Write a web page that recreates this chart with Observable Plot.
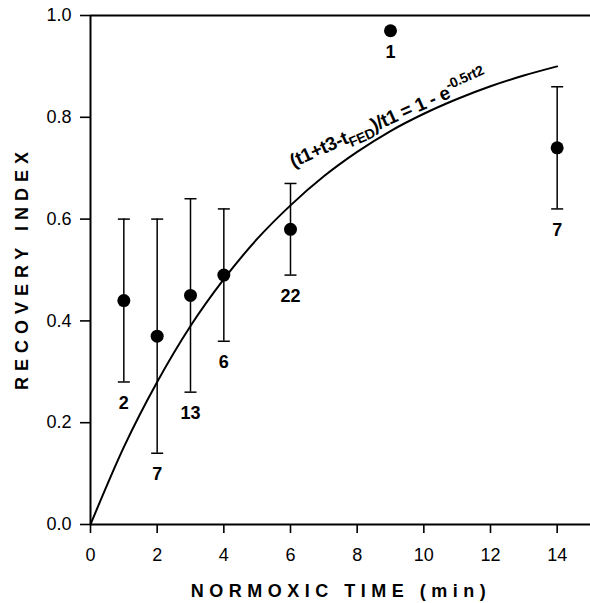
<!DOCTYPE html>
<html><head><meta charset="utf-8">
<script src="https://cdn.jsdelivr.net/npm/d3@7"></script>
<script src="https://cdn.jsdelivr.net/npm/@observablehq/plot@0.6"></script>
<style>body{margin:0;background:#fff}</style>
</head><body><div id="chart"></div>
<script>
// ---- data ----
const times  = [1, 2, 3, 4, 6, 9, 14];
const means  = [0.44, 0.37, 0.45, 0.49, 0.58, 0.97, 0.74];
const lows   = [0.28, 0.14, 0.26, 0.36, 0.49, null, 0.62];
const highs  = [0.60, 0.60, 0.64, 0.62, 0.67, null, 0.86];
const counts = ["2", "7", "13", "6", "22", "1", "7"];
const curveX = [0, 1, 2, 3, 4, 5, 6, 7, 8, 9, 10, 11, 12, 13, 14];
const curveY = [0, 0.152, 0.28, 0.39, 0.482, 0.561, 0.627, 0.684, 0.732, 0.773, 0.807, 0.836, 0.861, 0.882, 0.90];
const xTicks = [0, 2, 4, 6, 8, 10, 12, 14];
const yTicks = [0, 0.2, 0.4, 0.6, 0.8, 1.0];
const xTitle = "NORMOXIC TIME (min)";
const yTitle = "RECOVERY INDEX";

const points = times.map((t, i) => ({x: t, mean: means[i], low: lows[i], high: highs[i], n: counts[i]}));
const bars = points.filter(d => d.low != null);
const caps = bars.flatMap(d => [{x: d.x, y: d.low}, {x: d.x, y: d.high}]);
const curve = curveX.map((x, i) => ({x, y: curveY[i]}));

const capSymbol = {draw(ctx) { ctx.moveTo(-6, 0); ctx.lineTo(6, 0); }};
const font = "'Liberation Sans', Arial, Helvetica, sans-serif";

const plot = Plot.plot({
  width: 590, height: 603,
  marginLeft: 90, marginRight: 0, marginTop: 15, marginBottom: 79,
  x: {domain: [0, 15]},
  y: {domain: [0, 1]},
  style: {fontFamily: font, fontSize: "18px", color: "black", background: "white", overflow: "visible"},
  marks: [
    Plot.axisY(yTicks, {tickSize: 10, tickPadding: 9, tickFormat: d3.format(".1f"), label: null, fontSize: 18, strokeWidth: 1.6}),
    Plot.axisX(xTicks, {tickSize: 9, tickPadding: 15, label: null, fontSize: 18, strokeWidth: 1.6}),
    Plot.ruleY([0, 1], {stroke: "black", strokeWidth: 1.8}),
    Plot.ruleX([0], {stroke: "black", strokeWidth: 2}),
    Plot.line(curve, {x: "x", y: "y", curve: "monotone-x", stroke: "black", strokeWidth: 2}),
    Plot.ruleX(bars, {x: "x", y1: "low", y2: "high", stroke: "black", strokeWidth: 1.5}),
    Plot.dot(caps, {x: "x", y: "y", symbol: capSymbol, stroke: "black", fill: "none", strokeWidth: 1.5}),
    Plot.dot(points, {x: "x", y: "mean", r: 6.5, fill: "black", stroke: "none"}),
    Plot.text(points, {x: "x", y: d => d.low ?? d.mean, text: "n", dy: 21, fontWeight: "bold", fontSize: 18, fill: "black"})
  ]
});

const svg = d3.select(plot);
const sx = plot.scale("x"), sy = plot.scale("y");

// axis titles
svg.append("text")
  .attr("transform", "translate(28,268) rotate(-90)")
  .attr("text-anchor", "middle")
  .attr("font-family", font).attr("font-size", 18).attr("font-weight", "bold")
  .attr("letter-spacing", 6).attr("fill", "black")
  .text(yTitle);
svg.append("text")
  .attr("x", 341).attr("y", 597)
  .attr("text-anchor", "middle")
  .attr("font-family", font).attr("font-size", 18).attr("font-weight", "bold")
  .attr("letter-spacing", 5.5).attr("fill", "black")
  .text(xTitle);

// equation annotation along the curve
const ex = sx.apply(6.1), ey = sy.apply(0.70);
const eq = svg.append("text")
  .attr("transform", `translate(${ex},${ey}) rotate(-24)`)
  .attr("text-anchor", "start")
  .attr("font-family", font).attr("font-size", 19).attr("font-weight", "bold")
  .attr("letter-spacing", -0.3)
  .attr("fill", "black");
eq.append("tspan").text("(t1+t3-t");
eq.append("tspan").attr("font-size", 14).attr("dy", 5).text("FED");
eq.append("tspan").attr("dy", -5).text(")/t1 = 1 - e");
eq.append("tspan").attr("font-size", 14).attr("dy", -8).text("-0.5rt2");

document.getElementById("chart").append(plot);
</script>
</body></html>
